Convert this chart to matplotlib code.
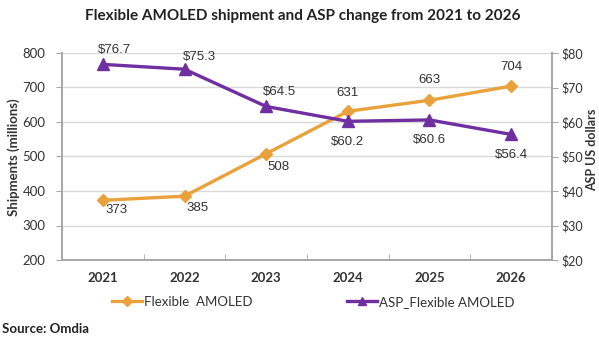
import matplotlib
matplotlib.use("Agg")
import matplotlib.pyplot as plt
from matplotlib.lines import Line2D

years = ["2021", "2022", "2023", "2024", "2025", "2026"]
shipments = [373, 385, 508, 631, 663, 704]
asp = [76.7, 75.3, 64.5, 60.2, 60.6, 56.4]
ship_labels = ["373", "385", "508", "631", "663", "704"]
asp_labels = ["$76.7", "$75.3", "$64.5", "$60.2", "$60.6", "$56.4"]
left_ticks = [200, 300, 400, 500, 600, 700, 800]
right_ticks = [20, 30, 40, 50, 60, 70, 80]

plt.rcParams["font.family"] = ["Lato", "DejaVu Sans"]

ORANGE = "#E9A23B"
PURPLE = "#6F2FA0"
GRID = "#D9D9D9"
SPINE = "#A6A6A6"
TXT = "#333333"

fig = plt.figure(figsize=(5.99, 3.40), dpi=100)
ax = fig.add_axes([62/599, 1-260/340, (552-62)/599, (260-53)/340])
ax2 = ax.twinx()

x = list(range(len(years)))
ax.plot(x, shipments, color=ORANGE, lw=2.4, marker="D", ms=6.5, zorder=3)
ax2.plot(x, asp, color=PURPLE, lw=2.4, marker="^", ms=8, zorder=3)

ax.set_xlim(-0.5, len(years) - 0.5)
ax.set_ylim(200, 800)
ax2.set_ylim(20, 80)
ax.set_yticks(left_ticks)
ax2.set_yticks(right_ticks)
ax2.set_yticklabels([f"${v}" for v in right_ticks])
ax.set_xticks(x)
ax.set_xticklabels(years)
ax.set_xticks([i - 0.5 for i in range(len(years) + 1)], minor=True)
ax.tick_params(axis="x", which="major", length=0, pad=9, labelsize=9.5, labelcolor=TXT)
ax.tick_params(axis="x", which="minor", length=4, color=SPINE, direction="in")
ax.tick_params(axis="y", length=4, color=SPINE, labelsize=9.5, labelcolor=TXT, pad=8)
ax2.tick_params(axis="y", length=4, color=SPINE, labelsize=9, labelcolor=TXT, pad=3)
for lab in ax.get_xticklabels():
    lab.set_fontweight("bold")

ax.grid(axis="y", color=GRID, lw=1)
ax.set_axisbelow(True)
for a in (ax, ax2):
    a.spines["top"].set_visible(False)
    for s in ("left", "right", "bottom"):
        a.spines[s].set_color(SPINE)
        a.spines[s].set_linewidth(1.2)

fig.text(14/599, 1 - 157/340, "Shipments (millions)", rotation=90, ha="center", va="center",
         fontsize=9.5, fontweight="bold", color=TXT)
fig.text(592.5/599, 1 - 150/340, "ASP US dollars", rotation=90, ha="center", va="center",
         fontsize=9, fontweight="bold", color=TXT)

# data labels: offsets in pixels (right, down)
ship_off = [(14, 10), (13, 12), (12, 13), (0, -18), (0, -20), (0, -19)]
for xi, v, t, (dx, dy) in zip(x, shipments, ship_labels, ship_off):
    ax.annotate(t, (xi, v), xytext=(dx * 0.72, -dy * 0.72), textcoords="offset points",
                ha="center", va="center", fontsize=9.5, color=TXT, family="Liberation Sans", zorder=5)
asp_off = [(12, -14), (15, -12), (13, -14), (0, 21), (0, 20), (0, 21)]
for xi, v, t, (dx, dy) in zip(x, asp, asp_labels, asp_off):
    ax2.annotate(t, (xi, v), xytext=(dx * 0.72, -dy * 0.72), textcoords="offset points",
                 ha="center", va="center", fontsize=9.5, color=TXT, family="Liberation Sans", zorder=5)

fig.text(0.506, 1 - 16/340, "Flexible AMOLED shipment and ASP change from 2021 to 2026",
         ha="center", va="center", fontsize=11, fontweight="bold", color="#222222")

h1 = Line2D([], [], color=ORANGE, lw=2.4, marker="D", ms=5)
h2 = Line2D([], [], color=PURPLE, lw=2.4, marker="^", ms=6)
leg1 = fig.legend([h1], ["Flexible  AMOLED"], loc="center left", bbox_to_anchor=(112/599, 1-302/340),
                  frameon=False, fontsize=9.5, handlelength=2.3, handletextpad=0.1, borderpad=0, borderaxespad=0)
leg2 = fig.legend([h2], ["ASP_Flexible AMOLED"], loc="center left", bbox_to_anchor=(347/599, 1-302/340),
                  frameon=False, fontsize=9.5, handlelength=2.3, handletextpad=0.1, borderpad=0, borderaxespad=0)
for lg in (leg1, leg2):
    for t in lg.get_texts():
        t.set_color(TXT)

fig.text(2/599, 1 - 329/340, "Source: Omdia", ha="left", va="center", fontsize=9.5,
         fontweight="bold", color="#222222")

fig.savefig("out.png", dpi=100)
